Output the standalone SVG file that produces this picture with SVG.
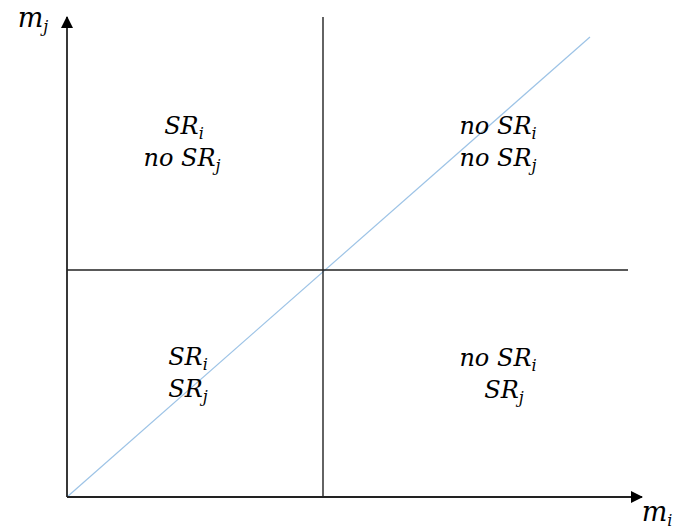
<svg xmlns="http://www.w3.org/2000/svg" width="675" height="532" viewBox="0 0 675 532">
<defs>
<marker id="ah" markerWidth="12" markerHeight="12" refX="11" refY="6" orient="auto" markerUnits="userSpaceOnUse">
<path d="M0,0 L12,6 L0,12 Z" fill="#000"/>
</marker>
<style>
.ax{stroke:#222;stroke-width:1.8;fill:none}
.ln{stroke:#222;stroke-width:1.4;fill:none}
.dg{stroke:#9dc3e6;stroke-width:1.2;fill:none}
.t{font-family:"DejaVu Serif","Liberation Serif",serif;font-style:italic;font-size:24px;fill:#000;text-anchor:middle}
.m{font-size:27px}
.s{font-size:16px}
</style>
</defs>
<rect width="675" height="532" fill="#fff"/>
<g id="connectors">
<line class="dg" x1="67" y1="497" x2="590" y2="37"/>
<line class="ln" x1="323" y1="17" x2="323" y2="497"/>
<line class="ln" x1="67" y1="270" x2="628" y2="270"/>
<line class="ax" x1="67" y1="497" x2="67" y2="17" marker-end="url(#ah)"/>
<line class="ax" x1="67" y1="497" x2="642" y2="497" marker-end="url(#ah)"/>
</g>
<g id="axis-mj"><text class="t m" x="33" y="27">m<tspan class="s" dy="5">j</tspan></text></g>
<g id="axis-mi"><text class="t m" x="657" y="521">m<tspan class="s" dy="5">i</tspan></text></g>
<g id="q-topleft">
<text class="t" x="184" y="134">SR<tspan class="s" dy="5">i</tspan></text>
<text class="t" x="182" y="166">no SR<tspan class="s" dy="5">j</tspan></text>
</g>
<g id="q-topright">
<text class="t" x="498" y="134">no SR<tspan class="s" dy="5">i</tspan></text>
<text class="t" x="498" y="166">no SR<tspan class="s" dy="5">j</tspan></text>
</g>
<g id="q-bottomleft">
<text class="t" x="188" y="365">SR<tspan class="s" dy="5">i</tspan></text>
<text class="t" x="188" y="397">SR<tspan class="s" dy="5">j</tspan></text>
</g>
<g id="q-bottomright">
<text class="t" x="498" y="366">no SR<tspan class="s" dy="5">i</tspan></text>
<text class="t" x="504" y="398">SR<tspan class="s" dy="5">j</tspan></text>
</g>
</svg>
